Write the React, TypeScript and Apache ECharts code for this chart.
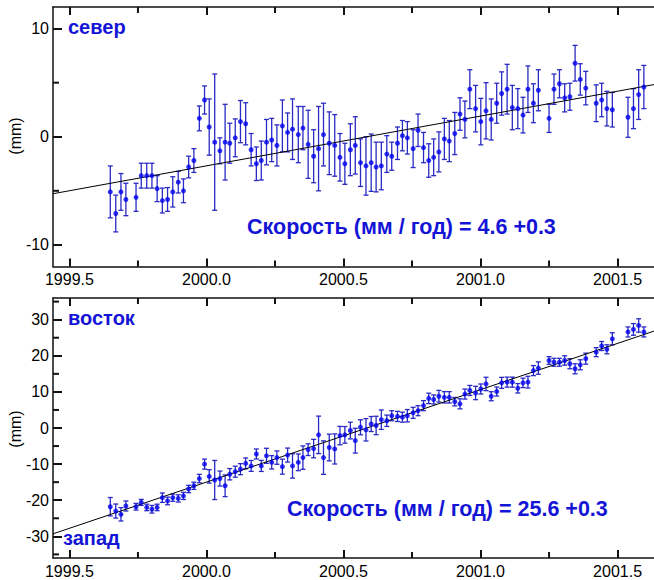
import React, { useEffect, useRef } from "react";
import * as echarts from "echarts";

// Weekly epochs (decimal years), shared by both panels
const epochs = [
  1999.649, 1999.669, 1999.688, 1999.706, 1999.743, 1999.762, 1999.782, 1999.801, 1999.820, 1999.839,
  1999.858, 1999.877, 1999.897, 1999.916, 1999.935, 1999.954, 1999.974, 1999.993, 2000.010, 2000.030,
  2000.049, 2000.068, 2000.085, 2000.105, 2000.124, 2000.143, 2000.163, 2000.182, 2000.200, 2000.219,
  2000.238, 2000.257, 2000.277, 2000.296, 2000.314, 2000.335, 2000.352, 2000.371, 2000.391, 2000.409,
  2000.427, 2000.448, 2000.468, 2000.487, 2000.505, 2000.525, 2000.543, 2000.562, 2000.582, 2000.601,
  2000.619, 2000.638, 2000.658, 2000.676, 2000.697, 2000.715, 2000.733, 2000.754, 2000.772, 2000.792,
  2000.811, 2000.829, 2000.848, 2000.868, 2000.886, 2000.906, 2000.925, 2000.943, 2000.961, 2000.982,
  2001.001, 2001.020, 2001.039, 2001.059, 2001.077, 2001.097, 2001.116, 2001.136, 2001.155, 2001.173,
  2001.193, 2001.211, 2001.250, 2001.268, 2001.288, 2001.307, 2001.326, 2001.345, 2001.364, 2001.384,
  2001.422, 2001.442, 2001.461, 2001.481, 2001.538, 2001.558, 2001.577, 2001.596,
];

// North component (mm) and 1-sigma errors
const northValues = [
  -5.1, -7.1, -5.1, -5.8, -5.6, -3.6, -3.6, -3.6, -4.8, -5.9,
  -5.8, -5.1, -4.2, -5.0, -2.8, -2.2, 1.7, 3.4, 0.9, -0.5,
  -1.3, -0.5, -0.6, -0.1, 1.4, 1.2, -1.2, -2.5, -2.2, -0.5,
  -0.3, -0.8, 1.0, 0.4, 0.7, 0.2, 0.8, -0.7, -1.8, -1.1,
  0.2, -0.6, -0.8, -1.9, -2.5, -1.2, -0.8, -2.4, -2.7, -2.4,
  -2.8, -2.7, -1.6, -1.8, -0.6, 0.1, -0.1, -1.1, 0.6, -1.0,
  -2.2, -1.9, -1.4, -0.2, -0.4, 0.3, 2.1, 1.6, 4.4, 2.6,
  1.4, 2.4, 1.6, 3.1, 4.0, 4.4, 2.7, 2.6, 2.0, 4.4,
  3.1, 4.3, 1.7, 4.4, 4.9, 3.6, 3.7, 6.8, 5.3, 4.5,
  3.1, 3.4, 2.6, 2.5, 1.8, 2.6, 3.9, 4.6,
];
const northErrors = [
  2.4, 1.7, 1.7, 1.5, 1.3, 1.15, 1.15, 1.15, 1.2, 1.15,
  1.1, 1.4, 1.0, 1.1, 1.0, 1.1, 1.15, 1.3, 2.6, 6.3,
  1.2, 3.5, 1.85, 1.75, 1.95, 1.95, 1.5, 1.55, 1.8, 2.1,
  2.0, 1.9, 2.4, 1.8, 2.8, 2.6, 2.0, 3.15, 2.45, 3.9,
  2.9, 2.9, 2.85, 2.2, 1.9, 2.4, 2.65, 2.2, 2.7, 2.65,
  2.3, 2.2, 1.7, 1.3, 1.5, 1.4, 1.5, 1.75, 1.5, 1.4,
  1.55, 1.7, 1.85, 1.9, 1.9, 1.95, 1.5, 1.7, 1.8, 2.15,
  2.15, 2.6, 1.9, 1.85, 2.0, 2.3, 2.05, 1.85, 1.65, 2.15,
  1.8, 1.9, 1.3, 1.4, 1.3, 1.3, 1.25, 1.65, 1.45, 1.55,
  1.7, 1.55, 1.6, 1.6, 1.85, 1.85, 2.3, 2.0,
];

// East component (mm) and 1-sigma errors
const eastValues = [
  -21.8, -23.0, -23.9, -21.6, -21.8, -20.6, -22.0, -22.5, -22.0, -19.3,
  -20.2, -19.3, -19.5, -18.8, -16.9, -16.0, -14.0, -10.0, -13.4, -14.4,
  -14.0, -16.0, -12.8, -12.1, -11.4, -9.8, -10.5, -7.2, -10.5, -7.7,
  -9.5, -8.2, -10.7, -7.5, -10.5, -9.5, -8.2, -6.0, -5.7, -1.9,
  -8.2, -5.4, -5.8, -2.1, -1.9, -0.7, -3.5, 0.2, -0.5, 1.1,
  0.7, 2.3, 2.0, 3.4, 3.2, 3.0, 3.4, 4.2, 4.8, 6.2,
  8.2, 7.9, 8.8, 8.5, 8.5, 7.3, 6.7, 9.4, 10.4, 9.7,
  10.8, 12.2, 8.8, 10.1, 12.5, 12.7, 12.7, 11.0, 12.5, 12.7,
  15.9, 16.6, 18.7, 18.2, 18.2, 18.7, 17.8, 16.4, 17.5, 19.2,
  21.0, 22.7, 21.8, 24.7, 26.6, 27.3, 28.4, 26.6,
];
const eastErrors = [
  2.55, 1.94, 1.85, 1.39, 0.93, 0.83, 0.9, 1.06, 0.9, 1.3,
  1.06, 1.0, 1.0, 1.0, 1.02, 1.0, 1.16, 1.39, 1.85, 5.42,
  2.08, 3.0, 1.57, 1.53, 1.53, 1.5, 1.5, 1.39, 1.53, 2.08,
  1.85, 1.85, 2.08, 1.94, 3.38, 2.31, 3.24, 1.62, 2.55, 5.19,
  4.63, 3.7, 4.17, 2.55, 2.3, 2.31, 3.43, 2.08, 3.1, 2.08,
  2.55, 2.69, 1.57, 1.39, 1.4, 1.39, 1.71, 1.53, 1.39, 1.39,
  1.44, 1.25, 1.62, 1.57, 1.57, 1.16, 1.39, 1.39, 1.39, 1.85,
  1.39, 1.85, 1.25, 1.25, 1.53, 1.39, 1.39, 1.3, 1.3, 1.62,
  1.39, 1.71, 1.06, 1.1, 1.1, 1.3, 1.39, 1.39, 1.39, 1.53,
  1.25, 1.25, 1.25, 1.67, 1.39, 1.62, 1.85, 1.39,
];

// Linear fits (end points of the trend lines)
const northTrend = [[1999.44, -5.27], [2001.695, 5.11]];
const eastTrend = [[1999.44, -29.31], [2001.695, 28.42]];

// Axis ranges and ticks
const xMin = 1999.44;
const xMax = 2001.695;
const xMajor = [1999.5, 2000.0, 2000.5, 2001.0, 2001.5];
const xMinor = [1999.75, 2000.25, 2000.75, 2001.25];
const northRange = [-12, 12];
const northMajor = [-10, 0, 10];
const northMinor = [-5, 5];
const eastRange = [-36, 36];
const eastMajor = [-30, -20, -10, 0, 10, 20, 30];
const eastMinor = [-35, -25, -15, -5, 5, 15, 25, 35];

const northLabel = "север";
const eastLabel = "восток";
const westLabel = "запад";
const northRate = "Скорость (мм / год) = 4.6 +0.3";
const eastRate = "Скорость (мм / год) = 25.6 +0.3";
const unitLabel = "(mm)";

const FONT = "'Liberation Sans', Arial, Helvetica, sans-serif";
const BLUE_TEXT = "#1414d6";
const POINT = "#0000f0";
const BAR = "#2a2ac4";
const FRAME = "#111";

const blackLine = { show: true, onZero: false, lineStyle: { color: FRAME, width: 1.5 } };

function xAxes(gridIndex: number) {
  const base = {
    type: "value" as const,
    gridIndex,
    min: xMin,
    max: xMax,
    splitLine: { show: false },
    axisLine: blackLine,
  };
  return [
    {
      ...base,
      position: "bottom",
      axisTick: { show: true, inside: true, length: 8, customValues: xMajor, lineStyle: { color: FRAME, width: 2 } },
      axisLabel: {
        show: true,
        customValues: xMajor,
        formatter: (v: number) => v.toFixed(1),
        color: "#000",
        fontSize: 16,
        fontFamily: FONT,
        margin: 5,
      },
    },
    {
      ...base,
      position: "top",
      axisTick: { show: true, inside: true, length: 8, customValues: xMajor, lineStyle: { color: FRAME, width: 2 } },
      axisLabel: { show: false },
    },
  ];
}

function yAxis(gridIndex: number, range: number[], major: number[]) {
  return {
    type: "value" as const,
    gridIndex,
    min: range[0],
    max: range[1],
    position: "left",
    splitLine: { show: false },
    axisLine: blackLine,
    axisTick: { show: true, inside: true, length: 9, customValues: major, lineStyle: { color: FRAME, width: 2 } },
    axisLabel: {
      show: true,
      customValues: major,
      color: "#000",
      fontSize: 16,
      fontFamily: FONT,
      margin: 4,
    },
  };
}

// Inward minor tick marks on the bottom/top frame (x) and left frame (y)
function xTicks(xIdx: number, yIdx: number, values: number[], yRef: number, len: number) {
  return {
    type: "custom",
    xAxisIndex: xIdx,
    yAxisIndex: yIdx,
    silent: true,
    z: 5,
    data: values.map((v) => [v, yRef]),
    encode: { x: 0, y: 1 },
    renderItem: (params: any, api: any) => {
      const cs = params.coordSys;
      const px = api.coord([api.value(0), api.value(1)])[0];
      const bottom = cs.y + cs.height;
      const style = { stroke: FRAME, lineWidth: 2 };
      return {
        type: "group",
        children: [
          { type: "line", shape: { x1: px, y1: bottom, x2: px, y2: bottom - len }, style },
          { type: "line", shape: { x1: px, y1: cs.y, x2: px, y2: cs.y + len }, style },
        ],
      };
    },
  };
}

function yTicks(xIdx: number, yIdx: number, values: number[], len: number) {
  return {
    type: "custom",
    xAxisIndex: xIdx,
    yAxisIndex: yIdx,
    silent: true,
    z: 5,
    data: values.map((v) => [xMin, v]),
    encode: { x: 0, y: 1 },
    renderItem: (params: any, api: any) => {
      const cs = params.coordSys;
      const py = api.coord([api.value(0), api.value(1)])[1];
      return {
        type: "line",
        shape: { x1: cs.x, y1: py, x2: cs.x + len, y2: py },
        style: { stroke: FRAME, lineWidth: 2 },
      };
    },
  };
}

function errorBarRender(params: any, api: any) {
  const x = api.value(0);
  const y = api.value(1);
  const e = api.value(2);
  const hi = api.coord([x, y + e]);
  const lo = api.coord([x, y - e]);
  const cx = hi[0];
  const w = 2.5;
  const style = { stroke: BAR, lineWidth: 1.3 };
  return {
    type: "group",
    children: [
      { type: "line", shape: { x1: cx, y1: hi[1], x2: cx, y2: lo[1] }, style },
      { type: "line", shape: { x1: cx - w, y1: hi[1], x2: cx + w, y2: hi[1] }, style },
      { type: "line", shape: { x1: cx - w, y1: lo[1], x2: cx + w, y2: lo[1] }, style },
    ],
  };
}

function panelSeries(xIdx: number, yIdx: number, values: number[], errors: number[], trend: number[][]) {
  return [
    {
      type: "custom",
      xAxisIndex: xIdx,
      yAxisIndex: yIdx,
      renderItem: errorBarRender,
      encode: { x: 0, y: 1 },
      data: epochs.map((t, i) => [t, values[i], errors[i]]),
      z: 2,
      silent: true,
    },
    {
      type: "line",
      xAxisIndex: xIdx,
      yAxisIndex: yIdx,
      data: trend,
      symbol: "none",
      lineStyle: { color: "#000", width: 1 },
      z: 3,
      silent: true,
    },
    {
      type: "scatter",
      xAxisIndex: xIdx,
      yAxisIndex: yIdx,
      data: epochs.map((t, i) => [t, values[i]]),
      symbol: "circle",
      symbolSize: 5,
      itemStyle: { color: POINT },
      z: 4,
      silent: true,
    },
  ];
}

function label(text: string, x: number, y: number, size: number) {
  return {
    type: "text",
    x,
    y,
    z: 10,
    style: {
      text,
      fill: BLUE_TEXT,
      fontSize: size,
      fontWeight: "bold",
      fontFamily: FONT,
      align: "left",
      verticalAlign: "middle",
    },
  };
}

function unit(y: number) {
  return {
    type: "text",
    x: 15,
    y,
    rotation: Math.PI / 2,
    z: 10,
    style: {
      text: unitLabel,
      fill: "#000",
      fontSize: 16,
      fontFamily: FONT,
      align: "center",
      verticalAlign: "middle",
    },
  };
}

export default function App() {
  const ref = useRef<HTMLDivElement>(null);
  useEffect(() => {
    if (!ref.current) return;
    const chart = echarts.init(ref.current, null, { renderer: "svg" });
    chart.setOption({
      animation: false,
      backgroundColor: "#fff",
      grid: [
        { left: 53, top: 7, right: -17, height: 259.5, outerBoundsMode: "none", containLabel: false },
        { left: 53, top: 298, right: -17, height: 260, outerBoundsMode: "none", containLabel: false },
      ],
      xAxis: [...xAxes(0), ...xAxes(1)],
      yAxis: [yAxis(0, northRange, northMajor), yAxis(1, eastRange, eastMajor)],
      series: [
        ...panelSeries(0, 0, northValues, northErrors, northTrend),
        ...panelSeries(2, 1, eastValues, eastErrors, eastTrend),
        xTicks(0, 0, xMinor, 0, 6),
        yTicks(0, 0, northMinor, 6),
        xTicks(2, 1, xMinor, 0, 6),
        yTicks(2, 1, eastMinor, 6),
      ],
      graphic: [
        label(northLabel, 68, 27, 20),
        label(eastLabel, 68, 318, 20),
        label(westLabel, 63, 538, 20),
        label(northRate, 247, 227, 21.5),
        label(eastRate, 287, 509, 21.5),
        unit(136),
        unit(429),
      ],
    });
    return () => chart.dispose();
  }, []);
  return (
    <div
      ref={ref}
      style={{ position: "fixed", left: 0, top: 0, width: 654, height: 580, background: "#fff" }}
    />
  );
}
